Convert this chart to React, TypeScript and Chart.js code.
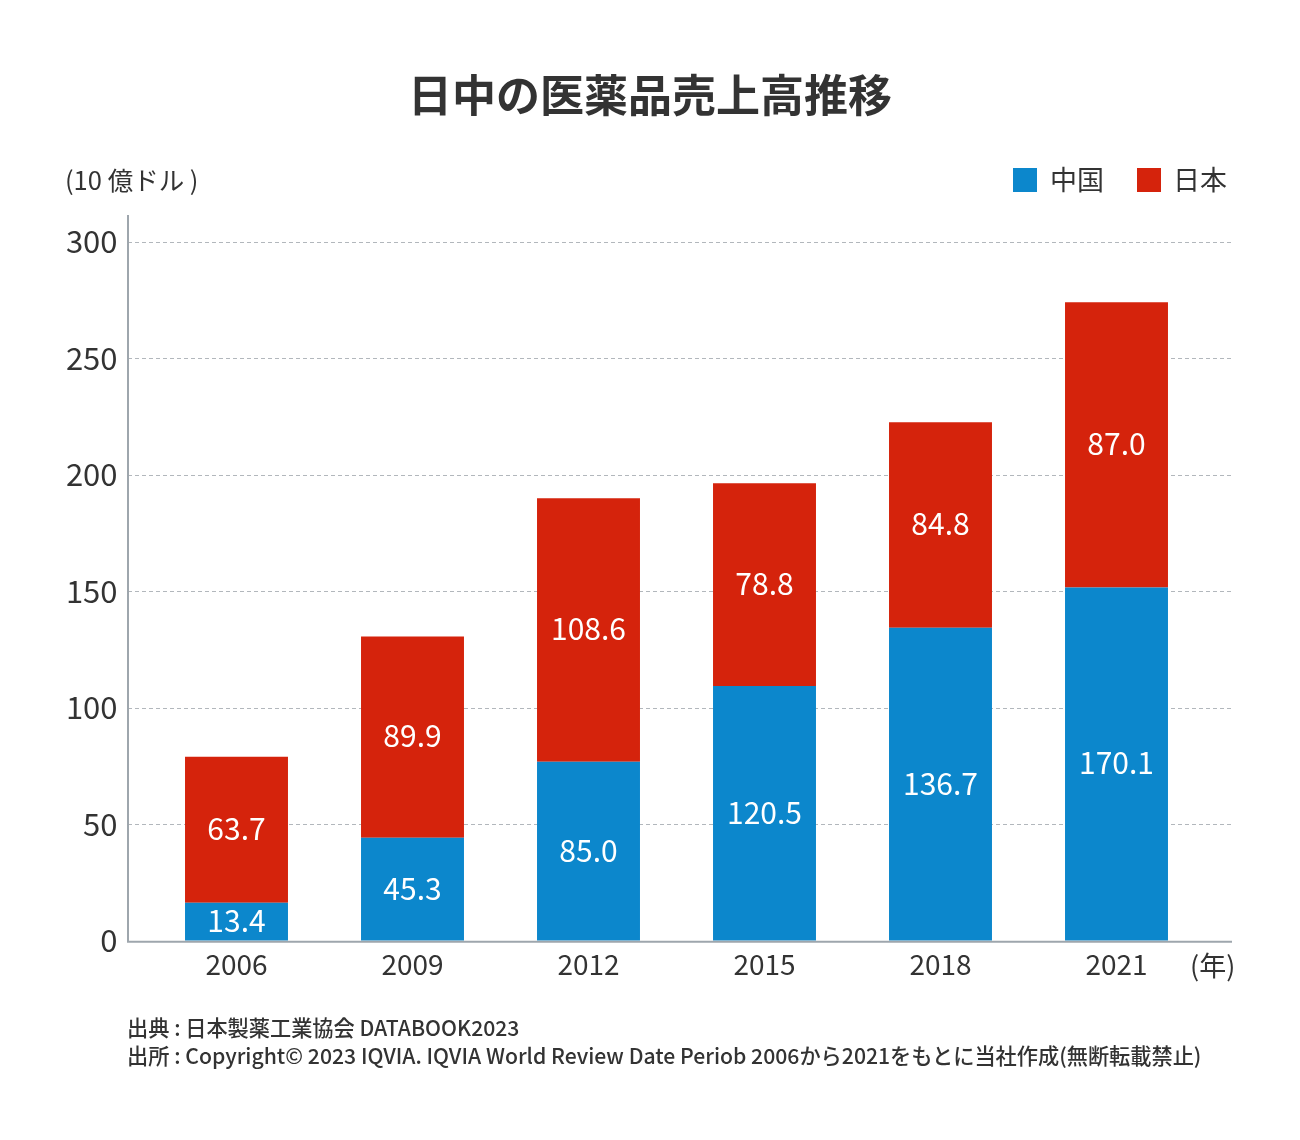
import React, { useEffect, useRef } from "react";
import { Chart, registerables } from "chart.js";

Chart.register(...registerables);

// ---- data (bar heights as drawn in the reference; printed labels as shown) ----
const years = ["2006", "2009", "2012", "2015", "2018", "2021"];
const chinaBar = [16.3, 44.2, 76.8, 109.3, 134.3, 151.6];
const japanBar = [62.7, 86.4, 113.1, 87.0, 88.2, 122.4];
const chinaLabels = ["13.4", "45.3", "85.0", "120.5", "136.7", "170.1"];
const japanLabels = ["63.7", "89.9", "108.6", "78.8", "84.8", "87.0"];
const seriesNames = ["中国", "日本"];
const yMin = 0;
const yMax = 300;
const yStep = 50;

const title = "日中の医薬品売上高推移";
const unitLabel = "(10 億ドル )";
const xUnitLabel = "(年)";
const note1 = "出典 : 日本製薬工業協会 DATABOOK2023";
const note2 =
  "出所 : Copyright© 2023 IQVIA. IQVIA World Review Date Periob 2006から2021をもとに当社作成(無断転載禁止)";

const BLUE = "#0C87CC";
const RED = "#D5230C";
const TEXT = "#333333";
const AXIS = "#9EA6AD";
const GRID = "#B2B7BC";
const FONT = "'Noto Sans CJK JP', 'Noto Sans', sans-serif";

const gridPlugin = {
  id: "customGrid",
  beforeDatasetsDraw(chart: any) {
    const { ctx, scales } = chart;
    const y = scales.y;
    ctx.save();
    ctx.strokeStyle = GRID;
    ctx.lineWidth = 1;
    ctx.setLineDash([4, 3]);
    y.ticks.forEach((t: any) => {
      if (t.value === yMin) return;
      const py = Math.round(y.getPixelForValue(t.value)) + 0.5;
      ctx.beginPath();
      ctx.moveTo(128, py);
      ctx.lineTo(1232, py);
      ctx.stroke();
    });
    ctx.restore();
  },
  afterDatasetsDraw(chart: any) {
    const { ctx, scales } = chart;
    const y = scales.y;
    const base = y.getPixelForValue(yMin);
    ctx.save();
    ctx.strokeStyle = AXIS;
    ctx.lineWidth = 2;
    ctx.setLineDash([]);
    ctx.beginPath();
    ctx.moveTo(128, 215);
    ctx.lineTo(128, base + 1);
    ctx.lineTo(1232, base + 1);
    ctx.stroke();
    ctx.restore();
  },
};

const labelPlugin = {
  id: "segLabels",
  afterDatasetsDraw(chart: any) {
    const { ctx } = chart;
    const texts = [chinaLabels, japanLabels];
    ctx.save();
    ctx.fillStyle = "#ffffff";
    ctx.font = `30px ${FONT}`;
    ctx.textAlign = "center";
    ctx.textBaseline = "middle";
    chart.data.datasets.forEach((_: any, di: number) => {
      const meta = chart.getDatasetMeta(di);
      meta.data.forEach((el: any, i: number) => {
        const cy = (el.y + el.base) / 2;
        ctx.fillText(texts[di][i], el.x, cy - 1);
      });
    });
    ctx.restore();
  },
};

function BarChart() {
  const ref = useRef<HTMLCanvasElement | null>(null);
  useEffect(() => {
    if (!ref.current) return;
    Chart.defaults.font.family = FONT;
    const chart = new Chart(ref.current, {
      type: "bar",
      data: {
        labels: years,
        datasets: [
          {
            label: seriesNames[0],
            data: chinaBar,
            backgroundColor: BLUE,
            barPercentage: 0.585,
            categoryPercentage: 1,
          },
          {
            label: seriesNames[1],
            data: japanBar,
            backgroundColor: RED,
            barPercentage: 0.585,
            categoryPercentage: 1,
          },
        ],
      },
      options: {
        animation: false,
        responsive: false,
        events: [],
        layout: {
          padding: { left: 28.5, right: 95.5, top: 241.7, bottom: 149.3 },
        },
        plugins: {
          legend: { display: false },
          title: { display: false },
          tooltip: { enabled: false },
        },
        scales: {
          x: {
            stacked: true,
            grid: { display: false, drawTicks: false },
            border: { display: false },
            ticks: {
              color: TEXT,
              font: { size: 28, family: FONT },
              padding: 7,
              maxRotation: 0,
            },
            afterFit(scale: any) {
              scale.height = 50;
            },
          },
          y: {
            stacked: true,
            min: yMin,
            max: yMax,
            grid: { display: false, drawTicks: false },
            border: { display: false },
            ticks: {
              stepSize: yStep,
              color: TEXT,
              font: { size: 31, family: FONT },
              padding: 31,
            },
            afterFit(scale: any) {
              scale.width = 120;
            },
          },
        },
      },
      plugins: [gridPlugin, labelPlugin],
    });
    return () => chart.destroy();
  }, []);
  return (
    <canvas
      ref={ref}
      width={1300}
      height={1140}
      style={{ position: "absolute", left: 0, top: 0, width: 1300, height: 1140 }}
    />
  );
}

export default function App() {
  const abs = (o: React.CSSProperties): React.CSSProperties => ({
    position: "absolute",
    whiteSpace: "nowrap",
    lineHeight: 1,
    color: TEXT,
    fontFamily: FONT,
    ...o,
  });
  return (
    <div
      style={{
        position: "relative",
        width: 1300,
        height: 1140,
        margin: -8,
        background: "#ffffff",
        overflow: "hidden",
        fontFamily: FONT,
      }}
    >
      <BarChart />
      <div style={abs({ left: 0, width: 1300, top: 71, textAlign: "center", fontSize: 44, fontWeight: 700 })}>
        {title}
      </div>
      <div style={abs({ left: 65, top: 166, fontSize: 25.5 })}>{unitLabel}</div>
      <div style={abs({ left: 1013, top: 168, width: 24, height: 24, background: BLUE })} />
      <div style={abs({ left: 1050, top: 165, fontSize: 27 })}>{seriesNames[0]}</div>
      <div style={abs({ left: 1137, top: 168, width: 24, height: 24, background: RED })} />
      <div style={abs({ left: 1173, top: 165, fontSize: 27 })}>{seriesNames[1]}</div>
      <div style={abs({ left: 1190, top: 951, fontSize: 27 })}>{xUnitLabel}</div>
      <div style={abs({ left: 127, top: 1016, fontSize: 21.2, fontWeight: 500 })}>{note1}</div>
      <div style={abs({ left: 127, top: 1044, fontSize: 21.2, fontWeight: 500 })}>{note2}</div>
    </div>
  );
}
